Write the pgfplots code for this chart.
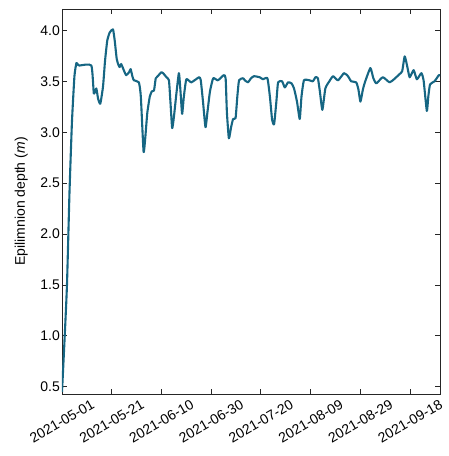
\documentclass[border=0pt]{standalone}
\usepackage{pgfplots}
\pgfplotsset{compat=1.18}
\usepackage{fontspec}
\setmainfont{Liberation Sans}
\definecolor{depthline}{RGB}{22,102,131}

\begin{document}
\begin{tikzpicture}[x=1pt,y=1pt]
\begin{axis}[
  name=ax,
  scale only axis,
  width=378pt, height=385pt,
  xmin=0, xmax=152,
  ymin=0.43, ymax=4.21,
  xtick={0,20,40,60,80,100,120,140},
  xticklabels={2021-05-01,2021-05-21,2021-06-10,2021-06-30,2021-07-20,2021-08-09,2021-08-29,2021-09-18},
  ytick={0.5,1.0,1.5,2.0,2.5,3.0,3.5,4.0},
  /pgf/number format/fixed,
  /pgf/number format/fixed zerofill,
  /pgf/number format/precision=1,
  /pgf/number format/assume math mode=true,
  tick align=inside,
  xtick pos=both, ytick pos=both,
  major tick length=5pt,
  every tick/.style={black!85, line width=0.9pt},
  axis line style={black!85, line width=0.9pt},
  tick label style={font=\fontsize{14}{16}\selectfont},
  % labels centred under each tick, shifts given in the rotated frame
  xticklabel style={rotate=30, anchor=center, inner sep=0pt, xshift=-13.5pt, yshift=-23.4pt},
  yticklabel style={inner sep=2pt},
  ylabel={Epilimnion depth (\textit{m})},
  ylabel style={font=\fontsize{14}{16}\selectfont},
  ylabel shift=7pt,
  clip=true,
]
\addplot[depthline, line width=2.1pt, line join=round, smooth, tension=0.3] coordinates {
(0,0.45) (1,0.95) (2,1.5) (3,2.4) (4,3.1) (5,3.55) (5.8,3.68) (6.5,3.66) (7,3.655) (11.8,3.655)
(12.8,3.38) (13.8,3.43) (14.5,3.33) (15.4,3.28) (16.5,3.45) (17.3,3.7) (18.2,3.9) (19.2,3.98)
(20.5,4.01) (21.2,3.9) (22,3.72) (22.7,3.66) (23.2,3.64) (23.8,3.67) (25,3.6) (25.8,3.56)
(27,3.59) (27.6,3.62) (28.3,3.55) (28.9,3.51) (30.9,3.49) (31.7,3.35) (32.8,2.81) (33.5,2.95)
(34.3,3.19) (35.3,3.35) (36.1,3.4) (37,3.41) (37.7,3.53) (38.5,3.55) (40,3.59) (41,3.57)
(42,3.54) (43,3.51) (43.6,3.3) (44.3,3.04) (45,3.15) (46,3.38) (47,3.58) (47.6,3.42)
(48.3,3.18) (49,3.35) (50,3.52) (52,3.49) (55.1,3.54) (55.8,3.51) (56.7,3.3) (57.7,3.05)
(58.5,3.2) (59.5,3.4) (60.8,3.53) (62.7,3.51) (65,3.56) (65.8,3.53) (66.3,3.2) (67.1,2.94)
(68,3.05) (68.8,3.13) (69.8,3.14) (70.5,3.35) (71.2,3.51) (72.8,3.53) (73.5,3.51) (74.8,3.49)
(76,3.53) (77.2,3.55) (79.5,3.54) (80.8,3.52) (82.6,3.53) (83.6,3.35) (84.5,3.12) (85.3,3.08)
(86.2,3.3) (86.9,3.49) (88.5,3.5) (89.6,3.44) (90.9,3.49) (92.3,3.48) (93.3,3.43) (94.5,3.3)
(95.6,3.13) (96.3,3.35) (97.3,3.51) (99.5,3.51) (100.9,3.5) (101.9,3.54) (102.9,3.53) (103.7,3.4)
(104.7,3.22) (105.9,3.43) (107.5,3.5) (109,3.55) (111,3.51) (113.4,3.58) (115,3.55) (116.3,3.5)
(118.3,3.49) (119.2,3.42) (120,3.30) (121,3.42) (121.8,3.49) (124,3.63) (125.2,3.53) (126.4,3.48)
(129,3.54) (131.7,3.49) (133.5,3.52) (135.7,3.57) (136.8,3.6) (137.8,3.745) (138.8,3.65) (139.8,3.54)
(141.4,3.61) (142.7,3.52) (144.5,3.58) (145.4,3.51) (146.7,3.21) (147.3,3.35) (148,3.47) (149.8,3.5)
(151.5,3.56) (152,3.56)
};
\end{axis}
\path ([xshift=-62pt,yshift=-62pt]ax.south west) rectangle ([xshift=9pt,yshift=9pt]ax.north east);
\end{tikzpicture}
\end{document}
